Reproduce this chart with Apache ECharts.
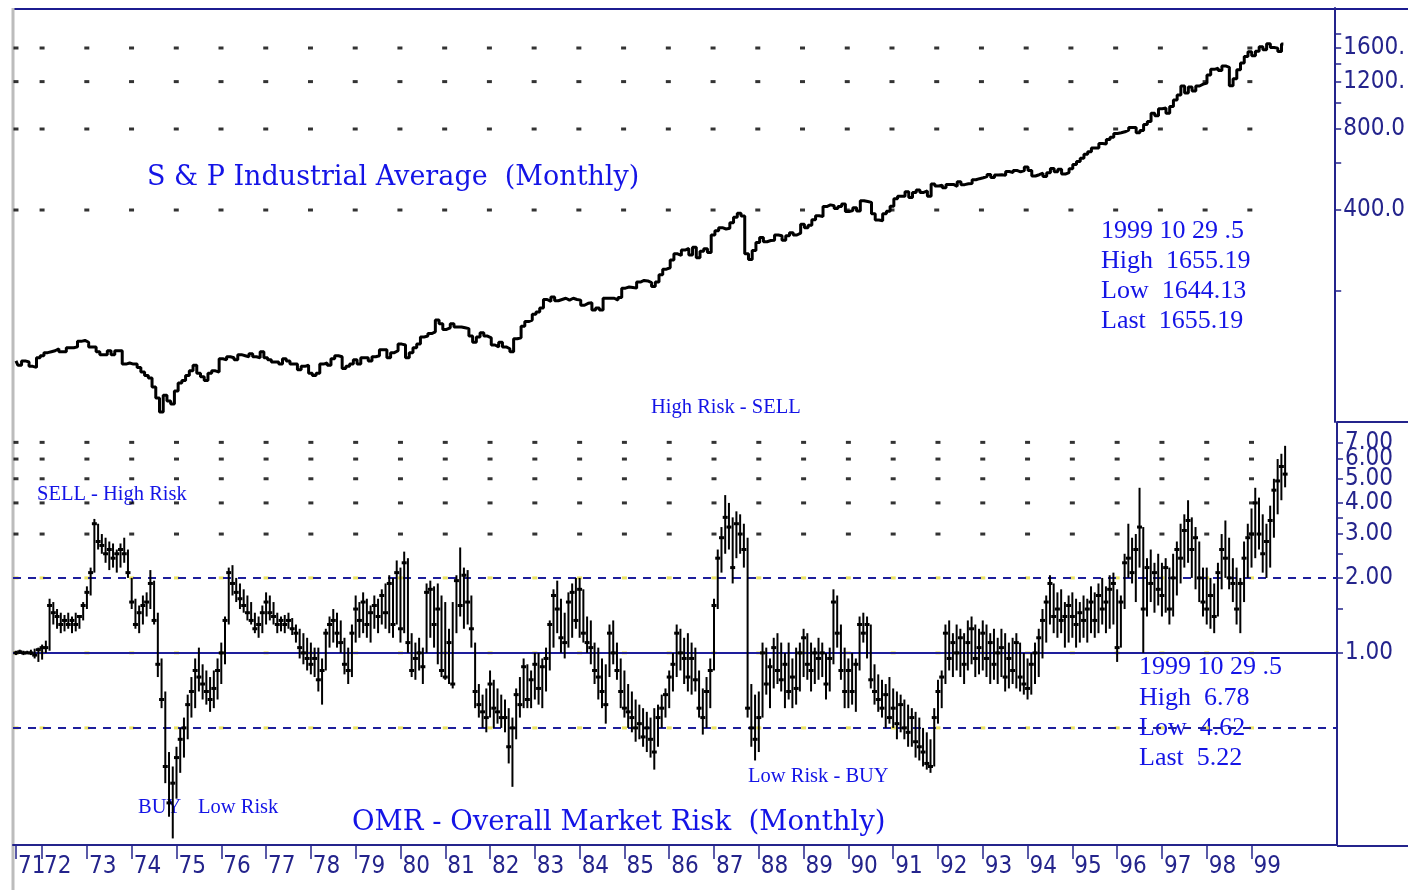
<!DOCTYPE html>
<html>
<head>
<meta charset="utf-8">
<title>S &amp; P Industrial Average / OMR</title>
<script src="https://cdn.jsdelivr.net/npm/echarts@6/dist/echarts.min.js"></script>
<style>
  html, body { margin: 0; padding: 0; background: #fff; }
  #chart { width: 1408px; height: 890px; }
</style>
</head>
<body>
<div id="chart"></div>
<script>
// month index 0 = Jun 1971, last bar (340) = Oct 1999
const yearLabels = ['71', '72', '73', '74', '75', '76', '77', '78', '79', '80', '81', '82', '83', '84', '85',
  '86', '87', '88', '89', '90', '91', '92', '93', '94', '95', '96', '97', '98', '99']
const yearStart = [0, 7, 19, 31, 43, 55, 67, 79, 91, 103, 115, 127, 139, 151, 163, 175, 187, 199, 211,
  223, 235, 247, 259, 271, 283, 295, 307, 319, 331]

// S & P Industrial Average, monthly close
const spClose = [
  110, 106, 110, 109, 105, 104, 113,
  115, 118, 119, 120, 122, 119, 119, 123, 123, 124, 130, 131,
  129, 124, 124, 119, 116, 116, 120, 116, 120, 120, 107, 108,
  107, 107, 104, 100, 97, 95, 88, 80, 71, 82, 78, 76,
  85, 91, 93, 97, 101, 106, 99, 96, 93, 99, 101, 100,
  112, 111, 114, 113, 111, 116, 115, 114, 117, 114, 113, 119,
  113, 111, 109, 109, 107, 112, 110, 107, 107, 102, 105, 106,
  99, 97, 99, 107, 108, 106, 112, 115, 114, 103, 105, 107,
  111, 107, 113, 113, 110, 114, 115, 121, 121, 113, 118, 120,
  127, 126, 113, 118, 123, 127, 135, 136, 139, 141, 156, 151,
  144, 146, 151, 147, 147, 146, 145, 136, 129, 135, 140, 136,
  134, 126, 124, 129, 124, 122, 119, 133, 134, 148, 154, 156,
  164, 167, 173, 186, 183, 190, 184, 186, 188, 185, 188, 186,
  185, 177, 180, 181, 170, 173, 170, 188, 188, 188, 185, 189,
  205, 207, 206, 205, 216, 219, 218, 215, 208, 216, 230, 241,
  244, 261, 275, 271, 284, 288, 272, 291, 266, 281, 287, 278,
  323, 335, 344, 340, 342, 359, 376, 389, 380, 275, 262, 283,
  303, 316, 305, 308, 309, 323, 321, 309, 321, 329, 323, 328,
  354, 344, 351, 368, 381, 378, 412, 418, 415, 405, 412, 421,
  395, 398, 408, 397, 433, 430, 427, 387, 367, 365, 387, 396,
  413, 440, 450, 450, 468, 445, 465, 475, 465, 471, 450, 500,
  491, 495, 484, 498, 498, 490, 509, 497, 501, 502, 518, 523,
  527, 532, 542, 528, 540, 541, 538, 556, 551, 561, 554, 560,
  578, 561, 535, 541, 548, 533, 550, 571, 555, 567, 544, 551,
  569, 590, 606, 623, 645, 659, 680, 680, 707, 704, 732, 745,
  770, 775, 781, 792, 810, 811, 774, 789, 832, 853, 916, 896,
  951, 957, 916, 970, 1026, 1071, 1155, 1088, 1146, 1107, 1156, 1174,
  1186, 1270, 1333, 1345, 1320, 1372, 1356, 1158, 1231, 1329, 1408, 1487,
  1548, 1498, 1556, 1616, 1575, 1661, 1608, 1598, 1552, 1655
]

// OMR - Overall Market Risk, monthly high / low / close
const omrHigh = [
  1.02, 1.03, 1.02, 1.02, 1.03, 1.04, 1.05,
  1.08, 1.12, 1.65, 1.6, 1.5, 1.45, 1.42, 1.45, 1.4, 1.45, 1.42, 1.6,
  1.85, 2.2, 3.45, 3.3, 3.0, 2.9, 2.8, 2.75, 2.6, 2.75, 2.9, 2.6,
  2.0, 1.65, 1.55, 1.7, 1.75, 2.15, 1.95, 1.45, 0.95, 0.7, 0.4, 0.35,
  0.42, 0.5, 0.55, 0.68, 0.8, 0.95, 1.05, 0.9, 0.85, 0.8, 0.85, 0.95,
  1.1, 1.4, 2.2, 2.25, 2.0, 1.9, 1.8, 1.7, 1.6, 1.45, 1.4, 1.55,
  1.75, 1.7, 1.6, 1.45, 1.4, 1.42, 1.45, 1.38, 1.3, 1.25, 1.2, 1.15,
  1.1, 1.05, 1.05, 0.95, 1.25, 1.4, 1.5, 1.45, 1.35, 1.15, 1.05, 1.3,
  1.7, 1.6, 1.75, 1.65, 1.55, 1.7, 1.65, 1.8, 1.9, 2.05, 2.0, 2.35,
  2.2, 2.55, 2.4, 1.2, 1.1, 1.15, 1.05, 1.9, 1.95, 1.85, 1.9, 1.7,
  1.6, 1.25, 1.6, 2.05, 2.65, 2.2, 2.15, 1.7, 1.1, 0.75, 0.68, 0.72,
  0.85, 0.78, 0.72, 0.68, 0.65, 0.6, 0.55, 0.72, 0.8, 0.95, 0.9, 0.85,
  1.0, 1.0, 0.95, 1.05, 1.35, 1.8, 1.95, 1.65, 1.45, 1.75, 1.9, 2.0,
  2.0, 1.8, 1.4, 1.35, 1.1, 1.05, 0.95, 0.9, 1.3, 1.35, 1.1, 0.95,
  0.85, 0.75, 0.7, 0.65, 0.62, 0.6, 0.58, 0.55, 0.6, 0.62, 0.68, 0.72,
  0.85, 1.0, 1.3, 1.25, 1.15, 1.2, 1.1, 1.05, 0.85, 0.72, 0.8, 0.95,
  1.65, 2.6, 3.2, 4.3, 4.0, 3.5, 3.7, 3.6, 3.3, 2.9, 0.75, 0.68,
  0.7, 1.1, 1.05, 0.95, 1.15, 1.2, 1.1, 1.0, 1.1, 0.95, 1.05, 1.1,
  1.25, 1.2, 1.1, 1.05, 1.15, 1.1, 1.0, 1.05, 1.8, 1.7, 1.3, 1.05,
  0.95, 1.0, 0.95, 1.4, 1.45, 1.4, 1.3, 0.9, 0.82, 0.78, 0.75, 0.8,
  0.72, 0.7, 0.68, 0.65, 0.62, 0.6, 0.58, 0.55, 0.5, 0.48, 0.45, 0.6,
  0.78, 0.85, 1.3, 1.35, 1.2, 1.3, 1.25, 1.2, 1.35, 1.4, 1.3, 1.25,
  1.35, 1.3, 1.2, 1.25, 1.15, 1.25, 1.2, 1.1, 1.15, 1.2, 1.1, 1.0,
  0.95, 1.0, 1.1, 1.25, 1.5, 1.7, 2.05, 1.9, 1.75, 1.8, 1.6, 1.7,
  1.75, 1.65, 1.6, 1.7, 1.65, 1.85, 1.75, 1.9, 2.0, 1.85, 2.05, 2.1,
  1.8, 1.7, 2.5, 3.3, 2.9, 3.0, 4.6, 3.2, 2.4, 2.6, 2.3, 2.5,
  2.3, 2.4, 2.2, 2.5, 2.8, 3.3, 3.6, 4.1, 3.5, 3.2, 2.8, 2.2,
  2.2, 2.0, 1.9, 2.3, 3.0, 3.4, 2.9, 2.4, 2.2, 2.0, 2.8, 3.3,
  3.8, 4.6, 4.2, 3.6, 3.3, 3.9, 5.0, 6.0, 6.3, 6.78
]
const omrLow = [
  0.98, 0.99, 0.98, 0.99, 0.98, 0.95, 0.92,
  0.94, 1.0, 1.02, 1.3, 1.25, 1.2, 1.22, 1.25, 1.2, 1.22, 1.25, 1.35,
  1.5, 1.7, 2.1, 2.6, 2.5, 2.3, 2.15, 2.2, 2.1, 2.2, 2.3, 2.0,
  1.5, 1.25, 1.2, 1.3, 1.4, 1.5, 1.3, 0.8, 0.6, 0.3, 0.22, 0.18,
  0.26, 0.33, 0.38, 0.45, 0.55, 0.6, 0.7, 0.65, 0.62, 0.58, 0.6, 0.65,
  0.75, 0.9, 1.3, 1.7, 1.6, 1.5, 1.45, 1.35, 1.3, 1.2, 1.15, 1.2,
  1.3, 1.35, 1.3, 1.2, 1.22, 1.2, 1.25, 1.18, 1.1, 0.95, 0.9, 0.85,
  0.82, 0.8, 0.7, 0.62, 0.85, 1.05, 1.1, 1.05, 1.0, 0.82, 0.75, 0.8,
  1.1, 1.15, 1.2, 1.15, 1.1, 1.25, 1.2, 1.3, 1.25, 1.2, 1.15, 1.3,
  1.1, 1.2, 1.0, 0.8, 0.78, 0.85, 0.75, 1.0, 1.15, 1.05, 0.9, 0.8,
  0.78, 0.75, 0.72, 1.2, 1.4, 1.25, 1.3, 1.05, 0.6, 0.55, 0.5, 0.48,
  0.55, 0.5, 0.52, 0.5, 0.48, 0.36, 0.29, 0.45, 0.55, 0.6, 0.6, 0.6,
  0.65, 0.62, 0.6, 0.7, 0.85, 1.05, 1.2, 1.0, 0.95, 1.05, 1.15, 1.25,
  1.15, 1.1, 1.0, 0.9, 0.75, 0.65, 0.6, 0.52, 0.8, 0.9, 0.78, 0.6,
  0.55, 0.5, 0.48, 0.44, 0.45, 0.42, 0.4, 0.38, 0.34, 0.42, 0.5, 0.55,
  0.6, 0.7, 0.8, 0.85, 0.75, 0.7, 0.68, 0.7, 0.55, 0.47, 0.5, 0.6,
  0.85, 1.5, 2.1, 2.5, 2.6, 1.9, 2.4, 2.5, 2.2, 0.55, 0.42, 0.37,
  0.4, 0.55, 0.68, 0.6, 0.72, 0.75, 0.7, 0.6, 0.65, 0.6, 0.62, 0.7,
  0.8, 0.78, 0.7, 0.75, 0.78, 0.8, 0.65, 0.7, 0.9, 1.05, 0.78, 0.6,
  0.6, 0.62, 0.58, 0.85, 1.1, 0.95, 0.72, 0.62, 0.58, 0.55, 0.5, 0.52,
  0.5, 0.45, 0.48, 0.45, 0.42, 0.42, 0.38, 0.37, 0.35, 0.34, 0.33, 0.35,
  0.52, 0.6, 0.75, 0.85, 0.8, 0.85, 0.8, 0.75, 0.85, 0.9, 0.8, 0.82,
  0.85, 0.8, 0.75, 0.78, 0.75, 0.8, 0.7, 0.72, 0.75, 0.72, 0.7, 0.68,
  0.65, 0.68, 0.75, 0.8, 0.95, 1.1, 1.3, 1.2, 1.15, 1.2, 1.05, 1.1,
  1.15, 1.05, 1.1, 1.15, 1.1, 1.2, 1.15, 1.2, 1.3, 1.2, 1.25, 1.3,
  0.92, 1.05, 1.5, 2.0, 1.9, 1.6, 2.2, 1.0, 1.4, 1.6, 1.45, 1.55,
  1.4, 1.45, 1.3, 1.4, 1.7, 1.9, 2.2, 2.3, 2.0, 1.8, 1.6, 1.4,
  1.3, 1.25, 1.2, 1.4, 1.8, 2.0, 1.8, 1.6, 1.3, 1.2, 1.6, 2.0,
  2.2, 2.4, 2.6, 2.1, 2.0, 2.2, 2.9, 3.6, 4.1, 4.62
]
const omrClose = [
  1.0, 1.01, 1.0, 1.0, 1.0, 0.98, 1.03,
  1.05, 1.05, 1.55, 1.45, 1.4, 1.3, 1.35, 1.3, 1.35, 1.3, 1.4, 1.55,
  1.75, 2.1, 3.3, 2.8, 2.7, 2.5, 2.6, 2.4, 2.5, 2.6, 2.5, 2.1,
  1.6, 1.3, 1.45, 1.55, 1.6, 1.9, 1.35, 0.9, 0.65, 0.35, 0.25, 0.3,
  0.38, 0.45, 0.5, 0.62, 0.7, 0.85, 0.8, 0.75, 0.7, 0.65, 0.72, 0.85,
  1.0, 1.35, 2.1, 1.9, 1.75, 1.65, 1.55, 1.45, 1.35, 1.25, 1.3, 1.45,
  1.6, 1.45, 1.4, 1.3, 1.35, 1.3, 1.35, 1.25, 1.2, 1.05, 1.0, 0.95,
  0.9, 0.95, 0.78, 0.85, 1.2, 1.3, 1.35, 1.2, 1.1, 0.9, 0.85, 1.2,
  1.5, 1.35, 1.6, 1.3, 1.45, 1.55, 1.4, 1.7, 1.45, 1.9, 1.3, 2.1,
  1.25, 2.3, 1.1, 0.85, 0.95, 1.0, 0.88, 1.75, 1.8, 1.3, 1.5, 0.85,
  0.8, 1.1, 0.75, 1.95, 1.55, 2.05, 1.6, 1.25, 0.7, 0.62, 0.58, 0.55,
  0.75, 0.6, 0.58, 0.55, 0.55, 0.42, 0.5, 0.68, 0.62, 0.88, 0.65, 0.78,
  0.9, 0.72, 0.88, 0.95, 1.3, 1.7, 1.5, 1.15, 1.1, 1.6, 1.75, 1.35,
  1.8, 1.2, 1.1, 1.05, 0.85, 0.8, 0.7, 0.62, 1.2, 1.0, 0.85, 0.7,
  0.6, 0.58, 0.55, 0.5, 0.52, 0.46, 0.5, 0.45, 0.4, 0.55, 0.6, 0.68,
  0.8, 0.9, 1.2, 1.0, 0.95, 0.8, 0.95, 0.78, 0.6, 0.55, 0.7, 0.85,
  1.55, 2.4, 2.9, 3.5, 3.2, 2.2, 3.3, 3.0, 2.6, 0.6, 0.5, 0.45,
  0.55, 1.0, 0.75, 0.88, 1.05, 0.85, 0.78, 0.9, 0.7, 0.8, 0.72, 1.0,
  1.15, 0.9, 0.85, 1.0, 0.95, 1.0, 0.75, 0.95, 1.6, 1.2, 0.85, 0.7,
  0.85, 0.7, 0.9, 1.3, 1.2, 1.3, 0.78, 0.7, 0.65, 0.6, 0.68, 0.55,
  0.6, 0.52, 0.62, 0.5, 0.48, 0.55, 0.44, 0.42, 0.4, 0.36, 0.35, 0.55,
  0.7, 0.8, 1.2, 0.95, 1.1, 1.0, 1.15, 0.9, 1.1, 1.25, 0.95, 1.05,
  1.2, 0.95, 1.1, 0.9, 1.0, 1.05, 0.8, 0.95, 0.85, 1.1, 0.8, 0.75,
  0.72, 0.9, 1.0, 1.15, 1.35, 1.6, 1.9, 1.4, 1.5, 1.35, 1.4, 1.55,
  1.4, 1.3, 1.45, 1.35, 1.5, 1.6, 1.35, 1.7, 1.5, 1.6, 1.8, 1.9,
  1.05, 1.6, 2.3, 2.4, 2.1, 2.6, 3.2, 1.5, 2.2, 1.9, 2.1, 1.8,
  1.7, 2.2, 1.5, 2.0, 2.6, 2.4, 3.1, 3.4, 2.6, 2.9, 2.0, 1.6,
  1.5, 1.7, 1.4, 2.1, 2.6, 2.4, 2.0, 1.9, 1.5, 1.9, 2.4, 2.9,
  3.0, 4.0, 3.0, 2.5, 2.8, 3.4, 4.5, 4.9, 5.6, 5.22
]

// axis ticks and labels
const spTicks = [200, 400, 600, 800, 1000, 1200, 1400, 1600, 1800]
const spLabelValues = [400, 800, 1200, 1600]
const spLabels = ['400.0', '800.0', '1200.', '1600.']
const omrTicks = [1, 1.5, 2, 2.5, 3, 3.5, 4, 5, 6, 7]
const omrLabelValues = [1, 2, 3, 4, 5, 6, 7]
const omrLabels = ['1.00', '2.00', '3.00', '4.00', '5.00', '6.00', '7.00']
const spDotLevels = [400, 800, 1200, 1600]
const omrDotLevels = [3, 4, 5, 6, 7]
const omrRefLevels = [0.5, 1, 2]

const navy = '#24248c'
const textBlue = '#1414e6'
const serif = '"Liberation Serif", "DejaVu Serif", serif'
const wideSerif = '"DejaVu Serif", "Liberation Serif", serif'
const narrow = '"Liberation Sans Narrow", "DejaVu Sans Condensed", sans-serif'

function pickLabel(values, labels) {
  return function(v) {
    const k = values.findIndex(t => Math.abs(t - v) < t * 1e-3 + 1e-3)
    return k >= 0 ? labels[k] : ''
  }
}
// labels are split over two axes (alternating) so close neighbours are never hidden
const even = (_, k) => k % 2 === 0
const odd = (_, k) => k % 2 === 1

const spData = spClose.map((v, i) => [i, v])
const omrData = omrClose.map((c, i) => [i, omrHigh[i], omrLow[i], c])

const spDots = []
yearStart.forEach(x => spDotLevels.forEach(y => spDots.push([x, y])))
const omrDots = []
yearStart.forEach(x => omrDotLevels.forEach(y => omrDots.push([x, y])))
const omrRefDots = []
yearStart.forEach(x => omrRefLevels.forEach(y => omrRefDots.push([x, y])))

function renderBar(params, api) {
  const i = api.value(0)
  const hi = api.coord([i, api.value(1)])
  const lo = api.coord([i, api.value(2)])
  const cl = api.coord([i, api.value(3)])
  return {
    type: 'group',
    children: [
      { type: 'line', shape: { x1: hi[0], y1: hi[1], x2: lo[0], y2: lo[1] }, style: { stroke: '#000', lineWidth: 2 } },
      { type: 'line', shape: { x1: cl[0] - 2.5, y1: cl[1], x2: cl[0] + 2.5, y2: cl[1] }, style: { stroke: '#000', lineWidth: 3 } }
    ]
  }
}

function label(text, x, y, size, family) {
  return {
    type: 'text', x: x, y: y, silent: true,
    style: { text: text, fill: textBlue, font: size + 'px ' + (family || serif), textVerticalAlign: 'middle', verticalAlign: 'middle' }
  }
}
function rule(x1, y1, x2, y2, color, w) {
  return { type: 'line', silent: true, shape: { x1, y1, x2, y2 }, style: { stroke: color, lineWidth: w } }
}

const labelBase = {
  color: navy,
  fontFamily: narrow,
  fontSize: 24,
  hideOverlap: false,
  showMinLabel: true,
  showMaxLabel: true
}

function monthAxis(values, labels, showLine) {
  return {
    gridIndex: 1,
    type: 'value',
    position: 'bottom',
    offset: 0,
    min: -0.8,
    max: 353.9,
    axisLine: { show: showLine, onZero: false, lineStyle: { color: navy, width: 2 } },
    axisTick: { customValues: values, length: 14, lineStyle: { color: navy, width: 1.5 } },
    axisLabel: Object.assign({
      customValues: values,
      formatter: pickLabel(values, labels),
      align: 'left',
      verticalAlign: 'middle',
      margin: 22,
      padding: [0, 0, 0, 2]
    }, labelBase),
    splitLine: { show: false }
  }
}

function logAxis(grid, min, max, ticks, values, labels, showLine) {
  return {
    gridIndex: grid,
    type: 'log',
    logBase: 2,
    min: min,
    max: max,
    position: 'right',
    offset: 0,
    axisLine: { show: showLine, onZero: false, lineStyle: { color: navy, width: 2 } },
    axisTick: { show: showLine, customValues: ticks, length: 6, lineStyle: { color: navy, width: 1.5 } },
    axisLabel: Object.assign({ customValues: values, formatter: pickLabel(values, labels), margin: 8 }, labelBase),
    splitLine: { show: false }
  }
}

const chart = echarts.init(document.getElementById('chart'))

chart.setOption({
  animation: false,
  backgroundColor: '#fff',
  grid: [
    { left: 13, right: 71, top: 8, height: 414 },
    { left: 13, right: 71, top: 422, height: 423 }
  ],
  xAxis: [
    { gridIndex: 0, type: 'value', min: -0.8, max: 353.9, show: false },
    monthAxis(yearStart.filter(even), yearLabels.filter(even), true),
    monthAxis(yearStart.filter(odd), yearLabels.filter(odd), false)
  ],
  yAxis: [
    logAxis(0, 65.2, 2253, spTicks, spLabelValues, spLabels, true),
    logAxis(1, 0.1694, 8.45, omrTicks, omrLabelValues.filter(even), omrLabels.filter(even), true),
    logAxis(1, 0.1694, 8.45, [], omrLabelValues.filter(odd), omrLabels.filter(odd), false)
  ],
  series: [{
    name: 'grid dots top',
    type: 'scatter',
    xAxisIndex: 0,
    yAxisIndex: 0,
    symbol: 'rect',
    symbolSize: [5, 3],
    itemStyle: { color: '#000' },
    silent: true,
    z: 1,
    data: spDots
  }, {
    name: 'S&P Industrial Average',
    type: 'line',
    xAxisIndex: 0,
    yAxisIndex: 0,
    step: 'middle',
    symbol: 'none',
    lineStyle: { color: '#000', width: 3 },
    z: 5,
    data: spData
  }, {
    name: 'grid dots bottom',
    type: 'scatter',
    xAxisIndex: 1,
    yAxisIndex: 1,
    symbol: 'rect',
    symbolSize: [5, 3],
    itemStyle: { color: '#000' },
    silent: true,
    z: 1,
    data: omrDots,
    markLine: {
      silent: true,
      symbol: 'none',
      label: { show: false },
      data: omrRefLevels.map(v => ({
        yAxis: v,
        lineStyle: { color: '#1e1e9c', width: 2, type: v === 1 ? 'solid' : [8, 7] }
      }))
    }
  }, {
    name: 'ref dots',
    type: 'scatter',
    xAxisIndex: 1,
    yAxisIndex: 1,
    symbol: 'rect',
    symbolSize: [5, 3],
    itemStyle: { color: '#e6dc3c' },
    silent: true,
    z: 3,
    data: omrRefDots
  }, {
    name: 'OMR',
    type: 'custom',
    xAxisIndex: 1,
    yAxisIndex: 1,
    renderItem: renderBar,
    encode: { x: 0, y: [1, 2, 3] },
    clip: true,
    z: 5,
    data: omrData
  }],
  graphic: [
    rule(12, 9, 1408, 9, '#1c1c90', 2),
    rule(13, 8, 13, 890, '#bcbcbc', 3),
    rule(1337, 422, 1408, 422, navy, 2),
    rule(1337, 846, 1408, 846, navy, 2),
    label('S & P Industrial Average  (Monthly)', 147, 178, 27, wideSerif),
    label('1999 10 29 .5', 1101, 231, 26),
    label('High  1655.19', 1101, 261, 26),
    label('Low  1644.13', 1101, 291, 26),
    label('Last  1655.19', 1101, 321, 26),
    label('High Risk - SELL', 651, 408, 20.5),
    label('SELL - High Risk', 37, 495, 20.5),
    label('BUY', 138, 808, 20.5),
    label('Low Risk', 198, 808, 20.5),
    label('Low Risk - BUY', 748, 777, 20.5),
    label('OMR - Overall Market Risk  (Monthly)', 352, 823, 27.5, wideSerif),
    label('1999 10 29 .5', 1139, 667, 26),
    label('High  6.78', 1139, 698, 26),
    label('Low  4.62', 1139, 728, 26),
    label('Last  5.22', 1139, 758, 26)
  ]
})
</script>
</body>
</html>
